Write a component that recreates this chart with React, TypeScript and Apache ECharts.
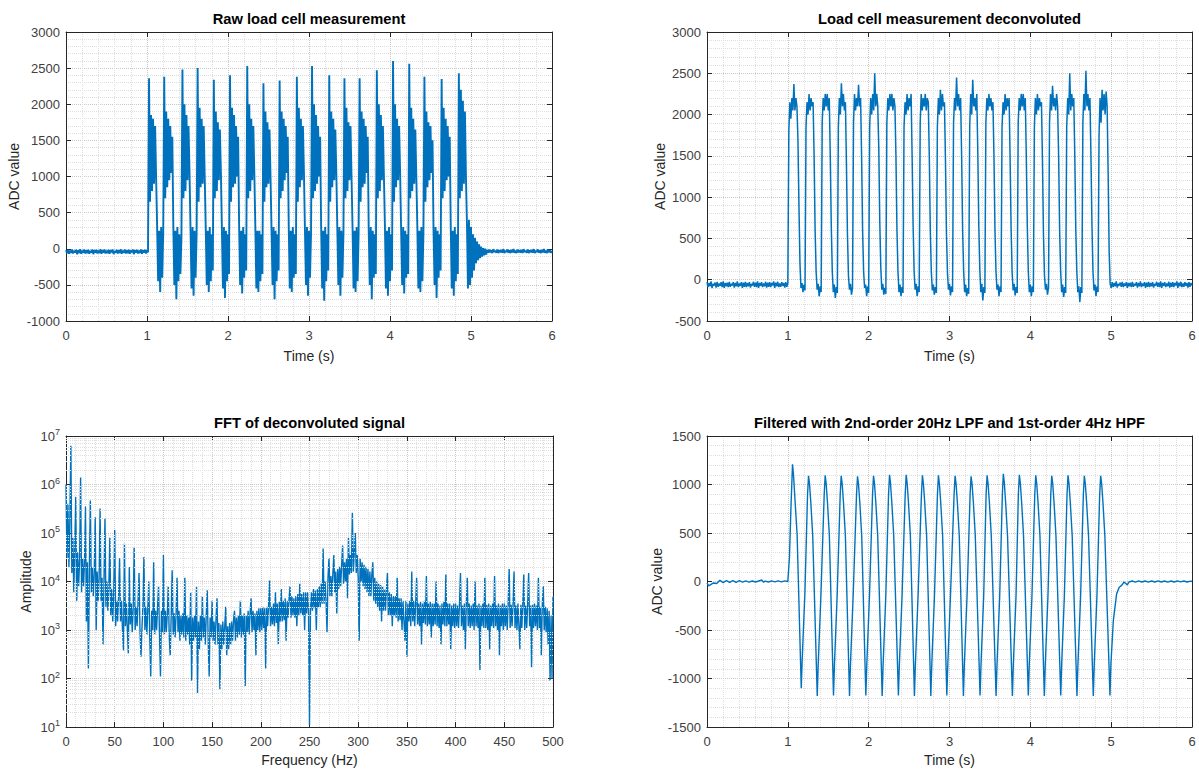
import React, { useEffect, useRef } from 'react';
import * as echarts from 'echarts';

const TIME_STEP_S = 0.0125;
const FREQ_STEP_HZ = 1;

const titles = [
  'Raw load cell measurement',
  'Load cell measurement deconvoluted',
  'FFT of deconvoluted signal',
  'Filtered with 2nd-order 20Hz LPF and 1st-order 4Hz HPF',
];
const xNames = ['Time (s)', 'Time (s)', 'Frequency (Hz)', 'Time (s)'];
const yNames = ['ADC value', 'ADC value', 'Amplitude', 'ADC value'];

// Raw load cell ADC values, one every 12.5 ms from 0 s to 6 s
const rawAdc = [
  -20,-60,-15,-70,-25,-55,-10,-65,-30,-50,
  -15,-75,-20,-60,-5,-70,-25,-55,-10,-65,
  -20,-60,-15,-70,-30,-50,-10,-75,-20,-55,
  -15,-65,-25,-60,-5,-70,-20,-55,-10,-65,
  -25,-60,-15,-70,-20,-50,-10,-75,-30,-55,
  -15,-65,-20,-60,-5,-70,-25,-55,-10,-65,
  -20,-60,-15,-70,-25,-50,-10,-75,-20,-55,
  -15,-65,-25,-60,-10,-70,-20,-55,-15,-65,
  -20,-50,
  2360,650,1850,800,1800,900,1700,1000, 300,-450,250,-600,300,-400,200,
  2380,700,1900,850,1800,950,1700,1050,1550, 300,-500,250,-700,300,-450,200,-350,150,
  2480,700,2000,800,1850,950,1700,1050, 250,-550,300,-650,250,-400,200,
  2500,650,1950,850,1800,900,1700,1000, 300,-500,250,-600,300,-450,200,-300,
  2340,700,1900,800,1750,950,1650,1050, 250,-550,300,-680,250,-450,200,-350,
  2400,650,1950,850,1850,900,1700,1000,1550, 300,-500,250,-620,300,-400,200,-300,
  2530,700,2000,800,1800,950,1700,1050, 300,-550,250,-600,250,-450,200,-350,
  2290,650,1900,850,1750,900,1650,1000, 250,-500,300,-700,250,-450,200,-300,
  2330,700,1900,800,1800,950,1700,1050,1550, 300,-550,250,-600,300,-400,200,-350,
  2380,650,1950,850,1800,950,1700,1050, 250,-500,300,-650,250,-400,200,
  2530,700,2000,800,1850,900,1700,1000,1550, 300,-550,250,-720,300,-450,200,-300,
  2400,650,1900,850,1800,950,1650,1050, 250,-500,300,-650,250,-400,200,
  2360,700,1950,800,1750,950,1700,1000, 300,-550,250,-600,300,-450,200,
  2360,650,1900,850,1800,900,1700,1050,1550, 250,-500,300,-700,250,-400,200,-350,
  2470,700,2000,800,1850,950,1700,1000, 300,-550,250,-650,300,-450,200,-300,
  2600,650,2000,850,1800,950,1700,1050, 250,-500,300,-620,250,-400,200,-350,
  2560,700,1950,800,1800,900,1650,1000, 300,-550,250,-600,300,-450,200,
  2380,650,1900,850,1750,950,1700,1050,1500, 250,-500,300,-680,250,-400,200,-300,
  2350,700,1950,800,1800,950,1700,1000,1550, 300,-550,250,-650,300,-450,200,-350,
  2430,700,2200,800,2050,900,1900,1000,
  350,-550,400,-500,300,-400,200,-300,150,-200,100,-160,60,-130,30,-110,10,-90,0,-80,
  -15,-55,-10,-50,-20,-60,-5,-45,-25,-55,
  -10,-60,-20,-50,-15,-55,-5,-60,-25,-45,
  -10,-55,-20,-60,-15,-50,-5,-55,-25,-60,
  -10,-50,-20,-55,-15,-60,-5,-45,-25,-55,
  -10,-60,-20,-50,-15,-55,-5,-60,-25,-45,
  -10,-55,-20,-60,-15,-50,-5,-55,-25,-60,
  -10,-50,-20,-55,-30,
];

// Deconvoluted ADC values, one every 12.5 ms from 0 s to 6 s
const deconvAdc = [
  -30,-90,-40,-80,-20,-100,-50,-70,-35,-95,
  -25,-85,-45,-75,-30,-90,-20,-100,-40,-80,
  -35,-90,-25,-85,-50,-70,-30,-95,-40,-80,
  -20,-90,-45,-75,-30,-100,-35,-85,-25,-90,
  -40,-80,-30,-95,-50,-70,-25,-85,-35,-90,
  -20,-100,-40,-75,-30,-90,-45,-80,-25,-95,
  -35,-85,-30,-90,-40,-70,-20,-100,-35,-80,
  -25,-90,-45,-85,-30,-75,-40,-95,-30,-85,
  -40,
  1800,2150,1950,2200,2050,2370,2050,2200,2100, 1700,900,200, -100,-40,-150,-60,-130,
  1850,2150,2000,2250,2050,2200,2100,2150, 1500,600,100, -120,-50,-200,-80,-150,
  1900,2200,2050,2250,2100,2250,2050,2200, 1500,650,100, -150,-60,-220,-90,-160,
  1850,2200,2000,2380,2100,2250,2050,2150, 1400,550,50, -120,-50,-180,-100,
  1900,2250,2050,2200,2100,2360,2100,2200, 1500,600,100, -100,-60,-200,-80,-160,
  1850,2200,2000,2250,2050,2500,2100,2250,2100, 1600,700,150, -120,-50,-180,-100,-170,
  1900,2200,2050,2250,2100,2250,2050,2200,2100, 1500,600,100, -150,-60,-200,-90,-160,
  1850,2150,2000,2250,2050,2200,2100,2250, 1500,650,100, -120,-50,-200,-80,-150,
  1900,2250,2050,2200,2100,2250,2050,2200,2150, 1500,600,100, -130,-60,-180,-90,-160,
  1850,2200,2000,2300,2050,2250,2100,2150, 1450,550,80, -120,-50,-190,-80,-150,
  1900,2200,2050,2450,2100,2250,2050,2200, 1500,600,100, -150,-60,-200,-100,-170,
  1850,2250,2000,2420,2100,2200,2050,2250, 1550,650,120, -150,-50,-250,-90,-160,
  1900,2200,2050,2250,2100,2200,2050,2150, 1500,600,100, -120,-60,-200,-80,-150,
  1850,2150,2000,2250,2050,2200,2100,2200, 1450,600,80, -130,-50,-190,-90,-160,
  1900,2200,2050,2250,2100,2250,2050,2200, 1500,650,100, -150,-60,-200,-80,-150,
  1850,2200,2000,2250,2050,2200,2100,2150, 1450,550,50, -120,-50,-180,-90,
  1900,2250,2050,2350,2100,2200,2050,2250,2100, 1500,600,100, -150,-60,-210,-90,-160,
  1850,2200,2000,2500,2050,2250,2100,2200, 1500,600,100, -150,-80,-270,-90,-160,
  1900,2250,2050,2530,2100,2250,2050,2200, 1500,650,100, -130,-60,-200,-80,-150,
  1750,2200,1900,2300,2050,2250,2000,2280,2100, 1300,350,-50,
  -100,-30,-90,-40,-80,-20,-95,-50,-70,-35,
  -85,-25,-90,-45,-75,-30,-100,-40,-80,-35,
  -90,-25,-85,-50,-70,-30,-95,-40,-80,-20,
  -90,-45,-75,-30,-100,-35,-85,-25,-90,-40,
  -80,-30,-95,-50,-70,-25,-85,-35,-90,-20,
  -100,-40,-75,-30,-90,-45,-80,-25,-95,-35,
  -85,-30,-90,-40,-70,-20,-100,-35,-80,-25,
  -90,-45,-85,-30,-75,-40,-95,-30,-85,-40,
  -70,
];

// FFT amplitude, one value per Hz from 0 Hz to 500 Hz
const fftAmplitude = [
  1e6,3e4,4e5,2e4,2e5,6.3e6,1.5e4,8e4,6e3,5e4,
  5.5e5,4e3,4e4,8e3,3e4,1.4e6,6e3,3e4,8e3,2.5e4,
  3.5e5,1.5e3,2.5e4,1.6e2,2e4,4.7e5,6e3,2e4,5e3,1.5e4,
  2.1e5,1e3,1.6e4,4e3,1.2e4,3.2e5,4e3,1.2e4,5e2,1e4,
  2e5,3e3,1e4,2.5e3,8e3,8e4,2e3,7e3,1.5e3,6e3,
  1.15e5,1.2e3,4e3,1.5e3,5e3,3e4,1.5e3,4e3,1e3,3.8e2,
  6e4,1.2e3,3.5e3,1e3,3.3e2,2e4,1.3e3,3.5e3,9e2,3e3,
  5e4,1e3,3e3,1.2e3,4e3,1.5e4,9e2,2.8e2,1.1e3,3.2e3,
  3.2e4,1e3,3e3,8e2,2.8e3,1e4,7e2,1.1e2,2.5e3,1e3,
  2.5e4,8e2,2.5e3,1e3,3e3,8e3,8e2,1.1e2,2.5e3,9e2,
  3.5e4,8e2,2.5e3,9e2,2.2e3,8e3,7e2,3e2,2e3,1.7e4,
  8e2,2.2e3,7e2,2e3,1.2e4,9e2,2.5e3,6e2,2e3,8e2,
  2.2e3,7e2,1.2e4,6e2,2e3,8e2,1.8e3,5e2,6e3,9e1,
  1.8e3,6e2,2e3,7e2,7.8e3,5e1,1.5e3,4e2,2e3,6e2,
  5e3,7e2,1.8e3,5e2,2e3,6.6e3,6e2,1.1e2,1.8e3,7e2,
  4e3,6e2,1.5e3,5e2,1.6e3,4.5e3,5e2,1.4e3,6e1,1.3e3,
  4e2,1.5e3,5e2,1.2e3,3e3,3e2,1.2e3,4e2,1.4e3,5e2,
  1.5e3,6e2,1.6e3,2.5e3,6e2,1.8e3,7e2,2e3,8e2,4e3,
  7e2,2e3,8e2,2.2e3,7e1,2e3,9e2,2.5e3,8e2,2.2e3,
  4.5e3,9e2,2.5e3,1e3,2.2e3,3e2,2.5e3,1e3,2.8e3,9e2,
  2.8e3,1e3,3e3,1.1e3,2.8e3,1.6e2,3e3,1.2e3,3.2e3,1.05e4,
  1.2e3,3e3,1.3e3,3.5e3,1.2e3,6e3,1.4e3,3.5e3,5e2,3.8e3,
  1.5e3,7e3,1.5e3,4e3,1.6e3,4.5e3,6e2,4e3,1.8e3,4.5e3,
  8e3,1.8e3,5e3,2e3,4.5e3,1.8e3,5e3,1.2e3,5.5e3,2e3,
  9e3,2.2e3,5.5e3,2e3,6e3,1e3,6e3,2.2e3,6e3,2.5e3,
  1.1e1,2.5e3,6e3,2.5e3,7e3,2.8e3,6.5e3,1e3,7e3,3e3,
  8e3,3e3,9e3,3.5e3,4.8e4,3.5e3,1e4,4e3,9e2,1.2e4,
  3e4,5e3,1.3e4,5e3,1.5e4,3.5e4,6e3,1.6e4,2.2e3,1.8e4,
  7e3,2e4,8e3,2.2e4,5.5e4,9e3,2.5e4,1e4,3e4,4.5e3,
  8e4,1.4e4,3.5e4,1.5e4,2.6e5,1.6e4,4e4,1e5,1.5e4,3.5e4,
  1.2e4,6e2,3e4,1e4,2.5e4,8e3,2.2e4,7e3,2e4,6e3,
  1.8e4,5e3,1.6e4,5e3,1.4e4,2.5e4,4e3,1.2e4,3.5e3,1e4,
  3e3,9e3,2.5e3,8.5e3,1.5e3,8e3,2.5e3,7e3,2.5e3,6.5e3,
  1.5e4,2e3,6e3,2e3,5.5e3,1.2e3,5e3,2e3,5e3,1.8e3,
  1.2e4,1.5e3,4.5e3,1.6e3,4.5e3,1e3,4e3,1.5e3,6e2,4e3,
  2.8e2,3.5e3,1.5e3,4e3,1.2e3,1.6e4,1.5e3,4e3,1.2e3,3.5e3,
  1.2e4,1.3e3,3.5e3,1.2e3,3.8e3,5e2,3.5e3,1.4e3,4e3,1.3e3,
  1.3e4,1.2e3,3.5e3,1.3e3,3.8e3,7e2,3.5e3,1.2e3,3.5e3,1.3e3,
  1e4,1.2e3,3.5e3,1.1e3,3.2e3,5e2,3.5e3,1.3e3,3.8e3,1.2e3,
  1.4e4,1.2e3,3.5e3,1.3e3,3.5e3,4e2,3.2e3,1.2e3,3.5e3,1.1e3,
  3.5e3,1.2e3,3.2e3,1.1e3,3.5e3,1.5e4,1.2e3,3.2e3,1e3,3.5e3,
  4e2,3.2e3,1.2e4,1.2e3,3.5e3,1.1e3,3.2e3,1.2e3,3.5e3,1e3,
  1e4,1.2e3,3.2e3,1.1e3,3.5e3,1.5e2,3.2e3,1.2e3,3.5e3,1.1e3,
  1.2e4,1.1e3,3.3e3,1e3,3.5e3,4e2,3.2e3,1.2e3,3.5e3,1.1e3,
  1.3e4,1.2e3,3.2e3,1e3,3.5e3,3e2,3.2e3,1.2e3,3.5e3,1e3,
  3.5e3,1.2e3,3.2e3,1e3,3.5e3,1.8e4,1.1e3,3.3e3,1.2e3,3.5e3,
  1.6e4,1.1e3,3.2e3,1e3,3.5e3,1.2e3,4e2,3.3e3,1.1e3,3.5e3,
  1.4e4,1e3,3.2e3,1.1e3,3.4e3,1.5e4,1.2e3,3.2e3,1.7e2,3.3e3,
  1.1e3,3.5e3,1.2e3,3.2e3,1e3,1.2e4,1.1e3,3e3,3e2,3.2e3,
  8e3,1e3,3e3,9e2,2.8e3,5e2,2.5e3,9e1,2e3,1e2,
  5e3,
];

// Filtered signal: time (s) and ADC value of the curve's vertices
const filteredTime = [
  0,0.02,0.05,0.08,0.12,0.16,0.2,0.24,0.28,0.32,0.36,0.4,0.44,0.48,0.52,0.56,0.6,0.64,0.68,0.7,0.72,0.76,0.8,0.84,0.88,0.92,0.96,1.0,
  1.02,1.04,1.058,1.07,1.088,1.115,1.166,1.178,1.211,1.244,
  1.256,1.268,1.284,1.308,1.364,1.376,1.409,1.45,
  1.462,1.474,1.49,1.514,1.565,1.577,1.61,1.648,
  1.66,1.672,1.688,1.712,1.763,1.775,1.808,1.85,
  1.862,1.874,1.89,1.914,1.965,1.977,2.01,2.048,
  2.06,2.072,2.088,2.112,2.167,2.179,2.212,2.246,
  2.258,2.27,2.286,2.31,2.368,2.38,2.413,2.452,
  2.464,2.476,2.492,2.516,2.566,2.578,2.611,2.653,
  2.665,2.677,2.693,2.717,2.769,2.781,2.814,2.851,
  2.863,2.875,2.891,2.915,2.967,2.979,3.012,3.057,
  3.069,3.081,3.097,3.121,3.172,3.184,3.217,3.255,
  3.267,3.279,3.295,3.319,3.378,3.39,3.423,3.453,
  3.465,3.477,3.493,3.517,3.576,3.588,3.621,3.654,
  3.666,3.678,3.694,3.718,3.778,3.79,3.823,3.852,
  3.864,3.876,3.892,3.916,3.975,3.987,4.02,4.055,
  4.067,4.079,4.095,4.119,4.173,4.185,4.218,4.253,
  4.265,4.277,4.293,4.317,4.376,4.388,4.421,4.454,
  4.466,4.478,4.494,4.518,4.577,4.589,4.622,4.656,
  4.668,4.68,4.696,4.72,4.779,4.791,4.824,4.858,
  4.87,4.882,4.898,4.922,4.985,
  4.997,5.027,5.068,5.1,5.13,5.16,5.18,5.2,5.22,5.26,5.3,5.34,5.38,5.42,5.46,5.5,5.54,5.58,5.62,5.66,5.7,5.74,5.78,5.82,5.86,5.9,5.94,5.98,6.0,
];
const filteredAdc = [
  -15,-45,-30,-15,-20,12,-12,8,-10,10,-8,8,-6,6,-6,5,-5,5,15,-8,4,-5,6,-4,6,-4,6,0,
  250,800,1208,1100,850,480,-1100,-800,-120,900,
  1090,1010,820,470,-1180,-850,-150,900,
  1095,1010,820,470,-1175,-850,-150,900,
  1090,1010,820,470,-1180,-850,-150,900,
  1085,1005,820,470,-1175,-850,-150,900,
  1090,1010,820,470,-1180,-850,-150,900,
  1100,1015,820,470,-1175,-850,-150,900,
  1100,1015,820,470,-1180,-850,-150,900,
  1095,1010,820,470,-1180,-850,-150,900,
  1095,1010,820,470,-1175,-850,-150,900,
  1090,1010,820,470,-1180,-850,-150,900,
  1085,1005,820,470,-1175,-850,-150,900,
  1095,1010,820,470,-1180,-850,-150,900,
  1110,1020,820,470,-1180,-850,-150,900,
  1100,1015,820,470,-1175,-850,-150,900,
  1095,1010,820,470,-1180,-850,-150,900,
  1090,1010,820,470,-1175,-850,-150,900,
  1095,1010,820,470,-1180,-850,-150,900,
  1090,1010,820,470,-1180,-850,-150,900,
  1090,1010,820,470,-1175,
  -850,-400,-125,-60,-40,-5,-20,-35,-5,5,-6,6,-5,5,-6,5,-5,6,-5,5,-6,5,-5,6,-4,5,-5,4,0,
];

const FONT = "'Liberation Sans', Arial, Helvetica, sans-serif";
const AXIS_COLOR = '#262626';
const LINE_COLOR = '#0072BD';

const grids = [
  { left: 66, top: 32, width: 486, height: 289 },
  { left: 707, top: 32, width: 485, height: 289 },
  { left: 66, top: 436, width: 487, height: 291 },
  { left: 707, top: 436, width: 485, height: 291 },
];

const xRanges = [
  { min: 0, max: 6, interval: 1 },
  { min: 0, max: 6, interval: 1 },
  { min: 0, max: 500, interval: 50 },
  { min: 0, max: 6, interval: 1 },
];
const yRanges: any[] = [
  { type: 'value', min: -1000, max: 3000, interval: 500 },
  { type: 'value', min: -500, max: 3000, interval: 500 },
  { type: 'log', min: 10, max: 1e7, interval: 1, logBase: 10 },
  { type: 'value', min: -1500, max: 1500, interval: 500 },
];
const yNameGaps = [45, 40, 33, 43];

function buildOption() {
  const majorSplit = { show: true, lineStyle: { color: '#c9c9c9', type: 'dotted', width: 1 } };
  const minorSplit = { show: true, lineStyle: { color: '#dedede', type: 'dotted', width: 1 } };
  const axisLine = { show: true, onZero: false, lineStyle: { color: AXIS_COLOR, width: 1 } };
  const tick = { show: true, inside: true, length: 5, lineStyle: { color: AXIS_COLOR } };
  const label = { color: '#404040', fontSize: 13, fontFamily: FONT, formatter: (v: number) => String(v) };

  const xAxis: any[] = [];
  const yAxis: any[] = [];
  grids.forEach((_, g) => {
    xAxis.push({
      type: 'value', gridIndex: g, position: 'bottom', ...xRanges[g],
      axisLine, axisTick: tick, axisLabel: { ...label, margin: 8 },
      splitLine: majorSplit, minorTick: { show: false, splitNumber: 5 }, minorSplitLine: minorSplit,
      name: xNames[g], nameLocation: 'middle', nameGap: g >= 2 ? 26 : 28,
      nameTextStyle: { color: AXIS_COLOR, fontSize: 14, fontFamily: FONT },
    });
    xAxis.push({
      type: 'value', gridIndex: g, position: 'top', ...xRanges[g],
      axisLine, axisTick: tick, axisLabel: { show: false }, splitLine: { show: false },
      name: titles[g], nameLocation: 'middle', nameGap: 6,
      nameTextStyle: { color: '#000', fontSize: 14.7, fontWeight: 'bold', fontFamily: FONT },
    });
    const isLog = yRanges[g].type === 'log';
    yAxis.push({
      gridIndex: g, position: 'left', ...yRanges[g],
      axisLine, axisTick: tick,
      axisLabel: isLog
        ? {
            color: '#404040', fontSize: 13, fontFamily: FONT, margin: 6,
            formatter: (v: number) => '10{s|' + Math.round(Math.log10(v)) + '}',
            rich: { s: { fontSize: 9, fontFamily: FONT, color: '#404040', verticalAlign: 'top', padding: [0, 0, 8, 0] } },
          }
        : { ...label, margin: 6 },
      splitLine: majorSplit,
      minorTick: { show: false, splitNumber: 5 },
      minorSplitLine: isLog ? { show: false } : minorSplit,
      name: yNames[g], nameLocation: 'middle', nameGap: yNameGaps[g],
      nameTextStyle: { color: AXIS_COLOR, fontSize: 14, fontFamily: FONT },
    });
    yAxis.push({
      gridIndex: g, position: 'right', ...yRanges[g],
      axisLine, axisTick: tick, axisLabel: { show: false }, splitLine: { show: false },
    });
  });

  const logMinor: number[] = [];
  for (let k = 1; k < 7; k++) for (let m = 2; m < 10; m++) logMinor.push(m * Math.pow(10, k));

  const lineSeries = (xi: number, data: number[][], width: number) => ({
    type: 'line', xAxisIndex: xi, yAxisIndex: xi, data, showSymbol: false, symbol: 'none',
    lineStyle: { color: LINE_COLOR, width, join: 'bevel' }, z: 3, silent: true,
  });

  return {
    animation: false,
    backgroundColor: '#fff',
    textStyle: { fontFamily: FONT },
    grid: grids.map((g) => ({ ...g, containLabel: false })),
    xAxis, yAxis,
    series: [
      lineSeries(0, rawAdc.map((v, i) => [i * TIME_STEP_S, v]), 1.9),
      lineSeries(2, deconvAdc.map((v, i) => [i * TIME_STEP_S, v]), 1.5),
      {
        type: 'line', xAxisIndex: 4, yAxisIndex: 4, data: [], z: 1, silent: true,
        markLine: {
          silent: true, symbol: ['none', 'none'], label: { show: false },
          lineStyle: { color: '#dedede', type: 'dotted', width: 1 },
          data: logMinor.map((v) => ({ yAxis: v })),
        },
      },
      lineSeries(4, fftAmplitude.map((v, i) => [i * FREQ_STEP_HZ, v]), 1.4),
      lineSeries(6, filteredTime.map((t, i) => [t, filteredAdc[i]]), 1.4),
    ],
  };
}

export default function App() {
  const ref = useRef<HTMLDivElement>(null);
  useEffect(() => {
    if (!ref.current) return;
    const chart = echarts.init(ref.current, null, { renderer: 'svg' });
    chart.setOption(buildOption() as any);
    return () => chart.dispose();
  }, []);
  return (
    <div
      ref={ref}
      style={{ position: 'fixed', left: 0, top: 0, width: 1199, height: 771, background: '#fff' }}
    />
  );
}
